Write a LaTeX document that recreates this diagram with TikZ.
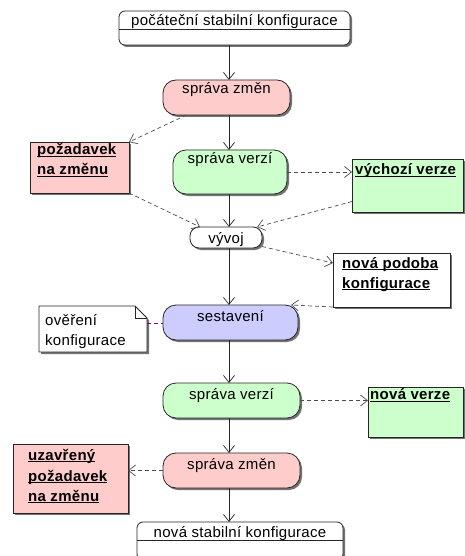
\documentclass[tikz,border=0pt]{standalone}
\usepackage{fontspec}
\setmainfont{Liberation Sans}[LetterSpace=2]
\usetikzlibrary{arrows.meta,shadows,calc}
\definecolor{pinkf}{RGB}{255,204,204}
\definecolor{greenf}{RGB}{204,255,204}
\definecolor{bluef}{RGB}{204,204,255}
\definecolor{notel}{RGB}{128,0,128}
\newcommand\ulx[1]{\setbox0\hbox{#1}\leavevmode\rlap{\rule[-2.4pt]{\wd0}{1pt}}\box0}
\tikzset{
  shd/.style={drop shadow={shadow xshift=2pt,shadow yshift=-2pt,fill=black!55,opacity=1}},
  act/.style={draw=black!85, line width=0.8pt, rounded corners=13pt, inner sep=0pt, outer sep=0pt, shd},
  objbox/.style={draw=black!85, line width=0.8pt, inner sep=0pt, outer sep=0pt, shd},
  statebox/.style={draw=black!85, fill=white, line width=0.8pt, rounded corners=6pt, inner sep=0pt, outer sep=0pt, shd},
  lbl/.style={inner sep=0pt, anchor=base, font=\fontsize{15pt}{20pt}\selectfont},
  lbll/.style={inner sep=0pt, anchor=base west, font=\fontsize{15pt}{20pt}\selectfont},
  blbl/.style={inner sep=0pt, anchor=base west, font=\fontsize{15pt}{20pt}\selectfont\bfseries},
  flow/.style={draw=black!85, line width=0.7pt, -{Straight Barb[length=7pt,width=11pt]}},
  dep/.style={draw=black!70, line width=0.7pt, dash pattern=on 4pt off 3pt, -{Straight Barb[length=7pt,width=11pt]}},
  notelink/.style={draw=notel, line width=0.7pt, dash pattern=on 4pt off 3pt}
}
\begin{document}
\begin{tikzpicture}[x=1pt,y=-1pt]
\useasboundingbox (0,0) rectangle (465,556);
\clip (0,0) rectangle (465,556);
\coordinate (axis) at (229,0);

% states
\node[statebox, minimum width=231pt, minimum height=34pt] (start) at (234.5,28) {};
\draw[black!85, line width=0.8pt] (start.west |- 0,29) -- (start.east |- 0,29);
\node[lbl] (startt) at (234.5,26) {počáteční stabilní konfigurace};

\node[statebox, minimum width=206pt, minimum height=38pt] (end) at (240,541) {};
\draw[black!85, line width=0.8pt] (end.west |- 0,540) -- (end.east |- 0,540);
\node[lbl] (endt) at (240,537.5) {nová stabilní konfigurace};

% activities
\node[act, fill=pinkf, minimum width=127pt, minimum height=35pt] (szm1) at (226.5,97.5) {};
\node[lbl] (szm1t) at (226.5,94) {správa změn};

\node[act, fill=greenf, minimum width=114pt, minimum height=44pt] (sv1) at (230,172) {};
\node[lbl] (sv1t) at (230,163.5) {správa verzí};

\node[act, fill=white, rounded corners=9pt, minimum width=72pt, minimum height=21pt] (vyvoj) at (226,237.5) {};
\node[lbl] (vyvojt) at (226,243) {vývoj};

\node[act, fill=bluef, minimum width=135pt, minimum height=35pt] (ses) at (230.5,322.5) {};
\node[lbl] (sest) at (230.5,321) {sestavení};

\node[act, fill=greenf, minimum width=137pt, minimum height=35pt] (sv2) at (231.5,400.5) {};
\node[lbl] (sv2t) at (231.5,399.5) {správa verzí};

\node[act, fill=pinkf, minimum width=137pt, minimum height=35pt] (szm2) at (231.5,470.5) {};
\node[lbl] (szm2t) at (231.5,469) {správa změn};

% objects
\node[objbox, fill=pinkf, minimum width=99pt, minimum height=51pt] (po) at (79.5,167.5) {};
\node[blbl] (pot1) at (37,155) {\ulx{požadavek}};
\node[blbl] (pot2) at (37,175) {\ulx{na změnu}};

\node[objbox, fill=greenf, minimum width=111pt, minimum height=53pt] (vv) at (407.5,185.5) {};
\node[blbl] (vvt) at (355,175) {\ulx{výchozí verze}};

\node[objbox, fill=white, minimum width=117pt, minimum height=54pt] (np) at (391.5,280) {};
\node[blbl] (npt1) at (342,268) {\ulx{nová podoba}};
\node[blbl] (npt2) at (342,288) {\ulx{konfigurace}};

\node[objbox, fill=greenf, minimum width=95pt, minimum height=50pt] (nv) at (415.5,412) {};
\node[blbl] (nvt) at (370,399.5) {\ulx{nová verze}};

\node[objbox, fill=pinkf, minimum width=115pt, minimum height=69pt] (uz) at (70.5,478.5) {};
\node[blbl] (uzt1) at (28,460) {\ulx{uzavřený}};
\node[blbl] (uzt2) at (28,481) {\ulx{požadavek}};
\node[blbl] (uzt3) at (28,501) {\ulx{na změnu}};

% note
\node[inner sep=0pt, outer sep=0pt, minimum width=108pt, minimum height=46pt] (note) at (93,329) {};
\draw[black!85, fill=white, line width=0.8pt, shd]
  (note.north west) -- ($(note.north east)+(-12,0)$) -- ($(note.north east)+(0,12)$) -- (note.south east) -- (note.south west) -- cycle;
\draw[black!85, line width=0.8pt] ($(note.north east)+(-12,0)$) -- ($(note.north east)+(-12,12)$) -- ($(note.north east)+(0,12)$);
\node[lbll] (notet1) at (45,325) {ověření};
\node[lbll] (notet2) at (45,345) {konfigurace};

% control flow
\draw[flow] (start.south -| axis) -- (szm1.north -| axis);
\draw[flow] (szm1.south -| axis) -- (sv1.north -| axis);
\draw[flow] (sv1.south -| axis) -- (vyvoj.north -| axis);
\draw[flow] (vyvoj.south -| axis) -- (ses.north -| axis);
\draw[flow] (ses.south -| axis) -- (sv2.north -| axis);
\draw[flow] (sv2.south -| axis) -- (szm2.north -| axis);
\draw[flow] (szm2.south -| axis) -- (end.north -| axis);

% object flow
\draw[dep] ($(szm1.south)+(-40,0)$) -- (po.north east);
\draw[dep] (sv1.east) -- (sv1.east -| vv.west);
\draw[dep] (po.south east) -- ($(vyvoj.north west)+(10,0)$);
\draw[dep] ($(vv.west)+(0,16)$) -- ($(vyvoj.north east)+(-5,0)$);
\draw[dep] ($(vyvoj.east)+(0,9)$) -- ($(np.north west)+(0,10)$);
\draw[dep] (np.south west) -- ($(ses.north east)+(-7,0)$);
\draw[dep] (sv2.east) -- (sv2.east -| nv.west);
\draw[dep] (szm2.west) -- (szm2.west -| uz.east);
\draw[notelink] (note.east |- 0,323) -- (ses.west |- 0,323);
\end{tikzpicture}
\end{document}
